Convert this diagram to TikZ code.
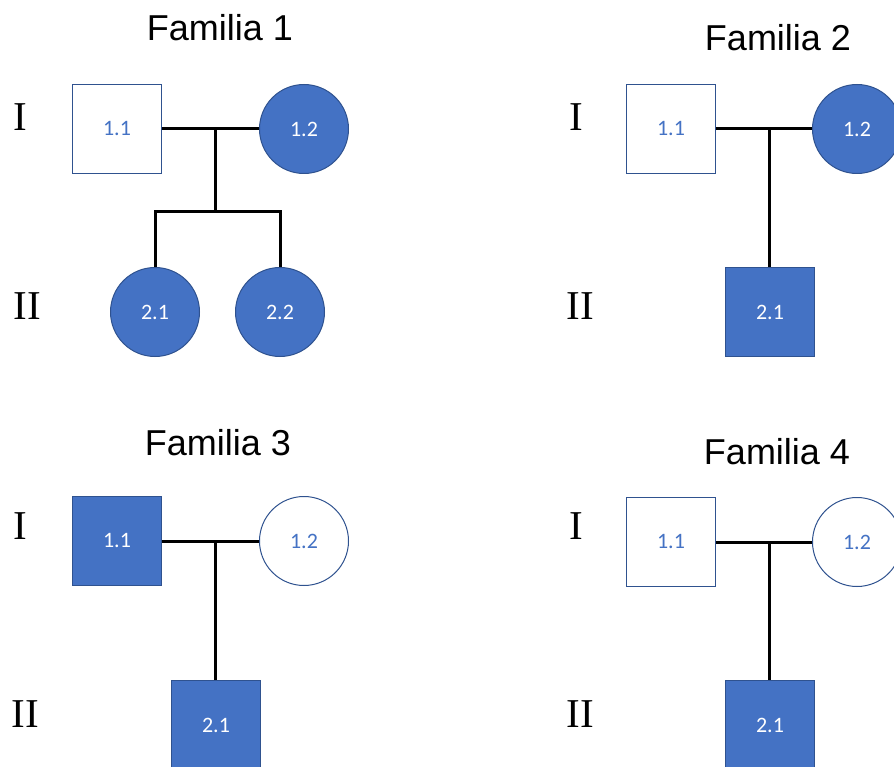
\documentclass[tikz,border=0pt]{standalone}
\usepackage{fontspec}
\setmainfont{Liberation Serif}
\newfontfamily\titlefont{Liberation Sans}
\newfontfamily\idfont{Carlito}
\definecolor{pedblue}{HTML}{4472C4}
\definecolor{pededge}{HTML}{2F528F}
\tikzset{
  person/.style={draw=pededge, line width=1pt, minimum size=89pt, inner sep=0pt,
                 font=\idfont\fontsize{22}{26}\selectfont},
  male/.style={person, rectangle},
  female/.style={person, circle},
  affected/.style={fill=pedblue, text=white},
  healthy/.style={fill=white, text=pedblue},
  rel/.style={line width=3pt, black},
  famtitle/.style={font=\titlefont\fontsize{36}{40}\selectfont},
  gen/.style={font=\fontsize{41}{44}\selectfont, inner sep=0pt},
}
\begin{document}
\begin{tikzpicture}[x=1pt, y=-1pt]
\useasboundingbox (0,0) rectangle (894,767);

% ---------------- Familia 1 ----------------
\node[famtitle] (t1) at (220,28) {Familia 1};
\node[gen] (g1a) at (20.5,117.5) {I};
\node[gen] (g1b) at (27.5,306) {II};
\node[male, healthy]    (a11) at (117,129) {1.1};
\node[female, affected] (a12) at (304,129) {1.2};
\node[female, affected] (a21) at (155,312) {2.1};
\node[female, affected] (a22) at (280,312) {2.2};
\coordinate (am) at (215,129);
\coordinate (aj) at (215,212);
\draw[rel] (a11.east) -- (a12.west);
\draw[rel] (am) -- (aj);
\draw[rel] (a21.north) |- (aj) -| (a22.north);

% ---------------- Familia 2 ----------------
\node[famtitle] (t2) at (778,38) {Familia 2};
\node[gen] (g2a) at (576,117.5) {I};
\node[gen] (g2b) at (580.5,306) {II};
\node[male, healthy]    (b11) at (671,129) {1.1};
\node[female, affected] (b12) at (857,129) {1.2};
\node[male, affected]   (b21) at (770,312) {2.1};
\coordinate (bm) at (769,129);
\draw[rel] (b11.east) -- (b12.west);
\draw[rel] (bm) -- (bm |- b21.north);

% ---------------- Familia 3 ----------------
\node[famtitle] (t3) at (218,443) {Familia 3};
\node[gen] (g3a) at (20,526) {I};
\node[gen] (g3b) at (25.5,714) {II};
\node[male, affected]   (c11) at (117,541) {1.1};
\node[female, healthy]  (c12) at (304,541) {1.2};
\node[male, affected]   (c21) at (216,725) {2.1};
\coordinate (cm) at (215,541);
\draw[rel] (c11.east) -- (c12.west);
\draw[rel] (cm) -- (cm |- c21.north);

% ---------------- Familia 4 ----------------
\node[famtitle] (t4) at (777,452) {Familia 4};
\node[gen] (g4a) at (576,526.5) {I};
\node[gen] (g4b) at (580.5,714) {II};
\node[male, healthy]    (d11) at (671,542) {1.1};
\node[female, healthy]  (d12) at (857,542) {1.2};
\node[male, affected]   (d21) at (770,725) {2.1};
\coordinate (dm) at (769,542);
\draw[rel] (d11.east) -- (d12.west);
\draw[rel] (dm) -- (dm |- d21.north);
\end{tikzpicture}
\end{document}
